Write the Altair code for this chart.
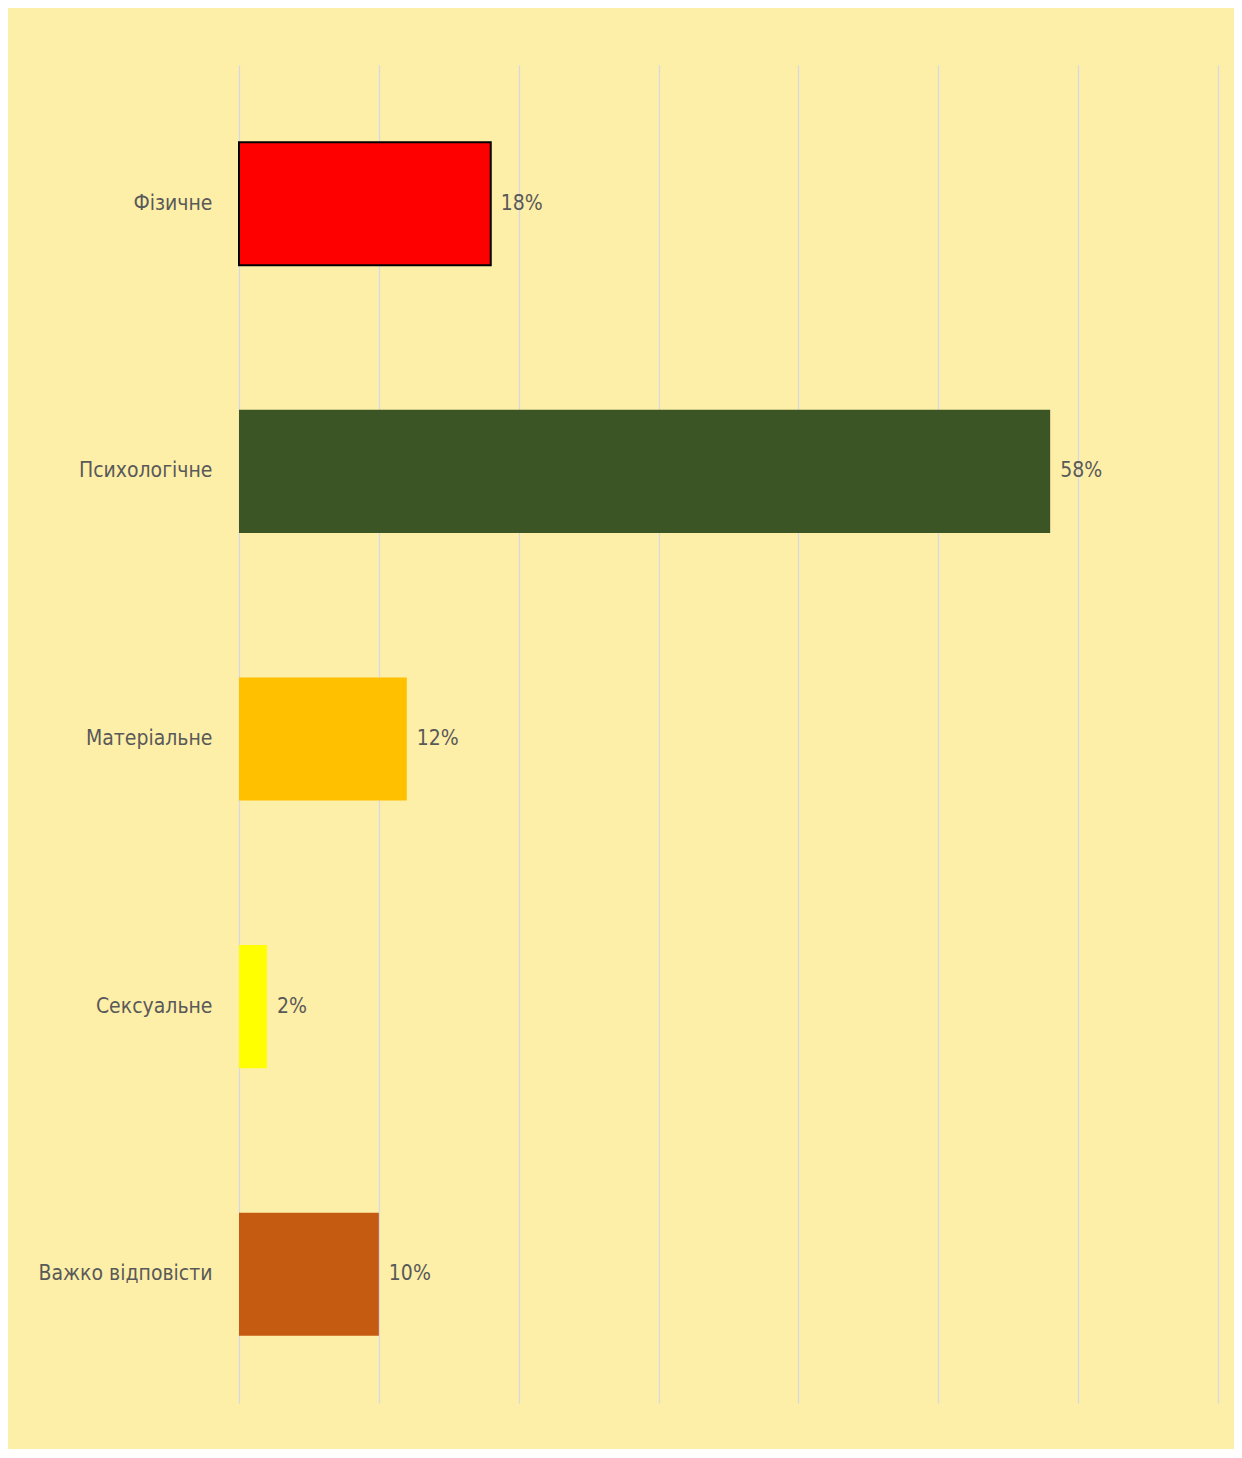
import altair as alt
import pandas as pd

categories = ["Фізичне", "Психологічне", "Матеріальне", "Сексуальне", "Важко відповісти"]
values = [0.18, 0.58, 0.12, 0.02, 0.10]
labels = ["18%", "58%", "12%", "2%", "10%"]
colors = ["#FF0000", "#3B5525", "#FFC000", "#FFFF00", "#C55A11"]
strokes = [2, 0, 0, 0, 0]
grid_ticks = [0, 0.1, 0.2, 0.3, 0.4, 0.5, 0.6, 0.7]

df = pd.DataFrame({
    "cat": categories,
    "val": values,
    "lab": labels,
    "col": colors,
    "sw": strokes,
})

FONT = "DejaVu Sans Condensed"

y_enc = alt.Y(
    "cat:N",
    sort=categories,
    scale=alt.Scale(paddingInner=0.54, paddingOuter=0.27),
    axis=alt.Axis(
        title=None, ticks=False, domain=False, grid=False,
        labelFont=FONT, labelFontSize=21, labelColor="#595959",
        labelPadding=27, labelLimit=300, labelOffset=5,
    ),
)
x_enc = alt.X(
    "val:Q",
    scale=alt.Scale(domain=[0, 0.7], nice=False),
    axis=alt.Axis(
        title=None, labels=False, ticks=False, domain=False,
        grid=True, gridColor="#D6D9E0", gridWidth=1.3, values=grid_ticks,
    ),
)

bars = alt.Chart(df).mark_bar(stroke="black", yOffset=5).encode(
    x=x_enc,
    y=y_enc,
    color=alt.Color("col:N", scale=None),
    strokeWidth=alt.StrokeWidth("sw:Q", scale=None),
)

text = alt.Chart(df).mark_text(
    align="left", baseline="middle", dx=10, yOffset=5,
    font=FONT, fontSize=21, color="#595959",
).encode(
    x=alt.X("val:Q"),
    y=alt.Y("cat:N", sort=categories),
    text="lab:N",
)

chart = (bars + text).properties(
    width=979,
    height=1338,
    background="#FEEFA8",
    padding={"left": 231, "top": 57, "right": 16, "bottom": 46},
    autosize=alt.AutoSizeParams(type="none"),
).configure_view(stroke=None, fill="#FEEFA8")

chart.save("out.html", embed_options={"renderer": "svg", "actions": False})
